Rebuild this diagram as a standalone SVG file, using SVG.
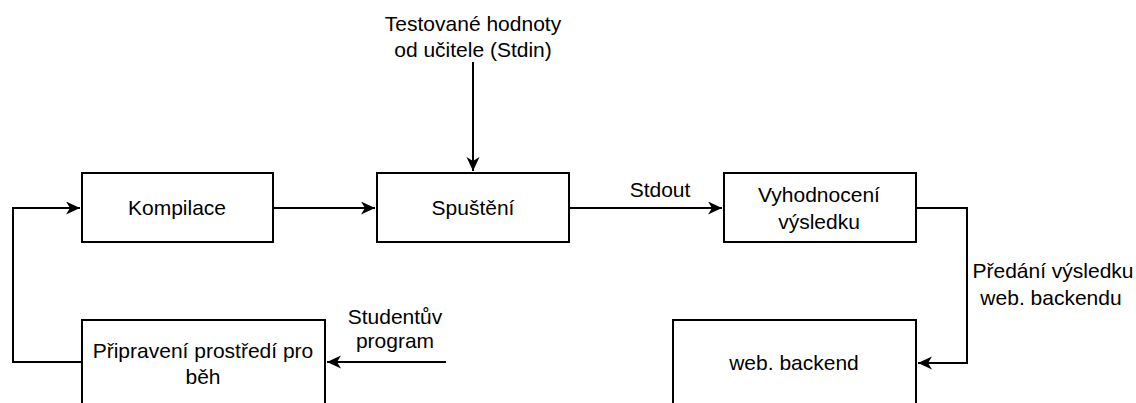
<svg xmlns="http://www.w3.org/2000/svg" width="1136" height="403" viewBox="0 0 1136 403">
<style>
.box{fill:#fff;stroke:#000;stroke-width:2}
.ln{fill:none;stroke:#000;stroke-width:2}
text{font-family:"Liberation Sans",Arial,sans-serif;font-size:21px;fill:#000;text-anchor:middle}
</style>
<defs>
<marker id="ah" markerWidth="16" markerHeight="14" refX="14" refY="6.5" orient="auto" markerUnits="userSpaceOnUse">
<path d="M0,0 L14,6.5 L0,13 L4,6.5 Z" fill="#000"/>
</marker>
</defs>
<g id="connectors">
<path class="ln" d="M82,362 H13 V208 H80" marker-end="url(#ah)"/>
<path class="ln" d="M273,208 H375" marker-end="url(#ah)"/>
<path class="ln" d="M473,62 V171" marker-end="url(#ah)"/>
<path class="ln" d="M569,208 H722" marker-end="url(#ah)"/>
<path class="ln" d="M916,208 H967 V363 H918" marker-end="url(#ah)"/>
<path class="ln" d="M446,362 H327" marker-end="url(#ah)"/>
<text x="473" y="31">Testované hodnoty</text>
<text x="473" y="57">od učitele (Stdin)</text>
<text x="660" y="197">Stdout</text>
<text x="1053" y="278">Předání výsledku</text>
<text x="1051" y="305">web. backendu</text>
<text x="395" y="324">Studentův</text>
<text x="395" y="348">program</text>
</g>
<g id="kompilace">
<rect class="box" x="82" y="173" width="191" height="69"/>
<text x="177" y="215">Kompilace</text>
</g>
<g id="spusteni">
<rect class="box" x="377" y="173" width="192" height="69"/>
<text x="473" y="215">Spuštění</text>
</g>
<g id="vyhodnoceni">
<rect class="box" x="724" y="173" width="192" height="69"/>
<text x="819" y="202">Vyhodnocení</text>
<text x="819" y="229">výsledku</text>
</g>
<g id="pripraveni">
<rect class="box" x="82" y="320" width="243" height="100"/>
<text x="203" y="358">Připravení prostředí pro</text>
<text x="203" y="384">běh</text>
</g>
<g id="backend">
<rect class="box" x="673" y="320" width="243" height="100"/>
<text x="794" y="370">web. backend</text>
</g>
</svg>
